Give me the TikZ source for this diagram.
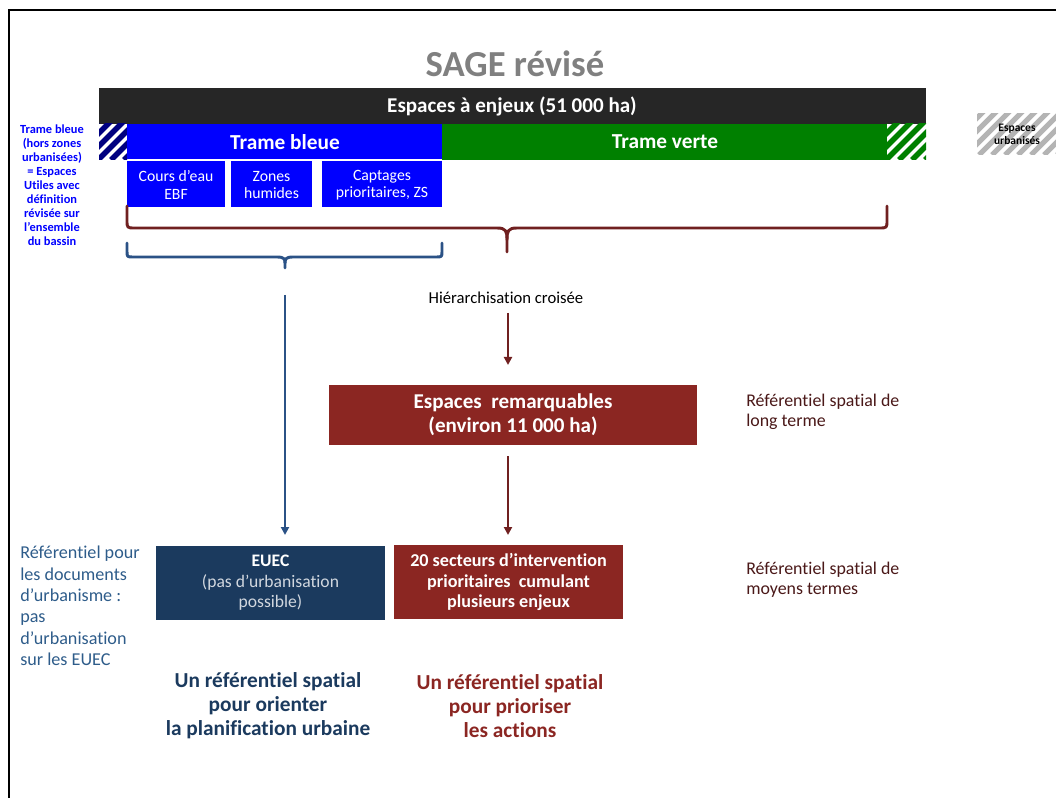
\documentclass[tikz,border=0pt]{standalone}
\usepackage{fontspec}
\setmainfont{Carlito}[RawFeature=-liga]
\usetikzlibrary{arrows.meta}
\definecolor{navy}{HTML}{1B3A5E}
\definecolor{tbblue}{HTML}{0000FF}
\definecolor{tvgreen}{HTML}{008000}
\definecolor{hatchblue}{HTML}{000080}
\definecolor{darkbar}{HTML}{262626}
\definecolor{boxred}{HTML}{8B2622}
\definecolor{bracered}{HTML}{702020}
\definecolor{braceblue}{HTML}{2B5286}
\definecolor{steel}{HTML}{2E5C8A}
\definecolor{maroon}{HTML}{4A1818}
\definecolor{titlegray}{HTML}{808080}
\definecolor{hatchgray}{HTML}{B4B4B4}
\begin{document}
\begin{tikzpicture}[x=0.75pt,y=-0.75pt,
  wtext/.style={text=white, align=center, inner sep=0pt},
  sub/.style={wtext, font=\fontsize{11.8}{13}\selectfont},
  arr/.style={line width=1.6pt, -{Triangle[width=6pt,length=6pt]}},
  brace/.style={line width=2.2pt, line cap=round, line join=round},
  lbl/.style={align=left, anchor=north west, inner sep=0pt}
]
\useasboundingbox (0,0) rectangle (1056,798);
% frame
\draw[line width=1.6pt] (9,798) -- (9,10) -- (1056,10);

% title
\node[text=titlegray, font=\bfseries\fontsize{27.5}{30}\selectfont] (title) at (515,64) {SAGE révisé};

% black bar
\fill[darkbar] (99,88) rectangle (926,124);
\node[wtext, font=\bfseries\fontsize{15.8}{18}\selectfont] (enjeux) at (512,106) {Espaces à enjeux (51 000 ha)};

% blue hatched square
\begin{scope}
\clip (99,124) rectangle (127,160);
\fill[white] (99,124) rectangle (127,160);
\foreach \i in {-40,-27,...,40} \draw[hatchblue, line width=4.2pt] (99+\i,160) -- ++(40,-40);
\end{scope}
% green hatched square
\begin{scope}
\clip (887,124) rectangle (926,160);
\fill[white] (887,124) rectangle (926,160);
\foreach \i in {-40,-27,...,40} \draw[tvgreen, line width=4.2pt] (887+\i,160) -- ++(40,-40);
\end{scope}

% trame bars
\fill[tbblue] (127,124) rectangle (442,159);
\node[wtext, font=\bfseries\fontsize{16}{18}\selectfont] (tb) at (285,142) {Trame bleue};
\fill[tvgreen] (442,124) rectangle (887,160);
\node[wtext, font=\bfseries\fontsize{16}{18}\selectfont] (tv) at (665,142) {Trame verte};

% sub boxes
\fill[tbblue] (127,161) rectangle (225,207);
\node[sub] (ce) at (176,185) {Cours d’eau\\EBF};
\fill[tbblue] (231,161) rectangle (312,207);
\node[sub] (zh) at (271.5,185) {Zones\\humides};
\fill[tbblue] (322,161) rectangle (442,207);
\node[sub] (cp) at (382,185) {Captages\\prioritaires, ZS};

% left blue text
\node[text=tbblue, align=center, inner sep=0pt, font=\bfseries\fontsize{9.3}{10.5}\selectfont] (tbnote) at (52,185)
 {Trame bleue\\(hors zones\\urbanisées)\\= Espaces\\Utiles avec\\définition\\révisée sur\\l’ensemble\\du bassin};

% espaces urbanises
\begin{scope}
\clip (977,114) rectangle (1056,155);
\fill[white] (977,114) rectangle (1056,155);
\foreach \i in {-50,-37,...,90} \draw[hatchgray, line width=3.8pt] (977+\i,155) -- ++(45,-45);
\end{scope}
\node[align=center, inner sep=0pt, font=\bfseries\fontsize{8.6}{9.8}\selectfont] (urb) at (1017,134.5) {Espaces\\urbanisés};

% red brace
\draw[brace, bracered] (127,206) -- (127,220) .. controls (127,228) .. (135,228) -- (497,228)
  .. controls (506,228) and (507,231) .. (507,240) -- (507,252);
\draw[brace, bracered] (507,240) .. controls (507,231) and (508,228) .. (517,228) -- (879,228)
  .. controls (887,228) .. (887,220) -- (887,206);
% blue brace
\draw[brace, braceblue] (127,243) -- (127,251) .. controls (127,257) .. (133,257) -- (277,257)
  .. controls (284,257) and (285,259) .. (285,263) -- (285,268);
\draw[brace, braceblue] (285,263) .. controls (285,259) and (286,257) .. (293,257) -- (436,257)
  .. controls (442,257) .. (442,251) -- (442,243);

% hierarchisation
\node[inner sep=0pt, font=\fontsize{12.5}{14}\selectfont] (hier) at (506,298) {Hiérarchisation croisée};

% espaces remarquables
\fill[boxred] (329,385) rectangle (697,445);
\node[wtext, font=\bfseries\fontsize{15.8}{18}\selectfont] (rem) at (513,415) {Espaces\ \ remarquables\\(environ 11 000 ha)};
\node[lbl, text=maroon, font=\fontsize{13.4}{15}\selectfont] (lt) at (746,394) {Référentiel spatial de\\long terme};

% EUEC
\fill[navy] (156,546) rectangle (385,620);
\node[wtext, font=\fontsize{13.2}{15.4}\selectfont] (euec) at (270.5,583) {\textbf{EUEC}\\{\color{white!80!navy}(pas d’urbanisation}\\{\color{white!80!navy}possible)}};

% 20 secteurs
\fill[boxred] (394,545) rectangle (623,619);
\node[wtext, font=\bfseries\fontsize{13.6}{15.4}\selectfont] (sect) at (508.5,582) {20 secteurs d’intervention\\prioritaires\ \ cumulant\\plusieurs enjeux};
\node[lbl, text=maroon, font=\fontsize{13.4}{15}\selectfont] (mt) at (746,562) {Référentiel spatial de\\moyens termes};

% left steel text
\node[lbl, text=steel, font=\fontsize{13.6}{16}\selectfont] (doc) at (20,546) {Référentiel pour\\les documents\\d’urbanisme :\\pas\\d’urbanisation\\sur les EUEC};

% bottom texts
\node[text=navy, align=center, inner sep=0pt, font=\bfseries\fontsize{16}{18}\selectfont] (orient) at (268,706) {Un référentiel spatial\\pour orienter\\la planification urbaine};
\node[text=boxred, align=center, inner sep=0pt, font=\bfseries\fontsize{16}{18}\selectfont] (prior) at (510,706) {Un référentiel spatial\\pour prioriser\\les actions};

% arrows
\coordinate (b1) at (285,295);
\coordinate (b2) at (285,535);
\draw[arr, braceblue] (b1) -- (b2);
\coordinate (r1) at (508,313);
\coordinate (r2) at (508,365);
\draw[arr, bracered] (r1) -- (r2);
\coordinate (r3) at (508,456);
\coordinate (r4) at (508,535);
\draw[arr, bracered] (r3) -- (r4);
\end{tikzpicture}
\end{document}
